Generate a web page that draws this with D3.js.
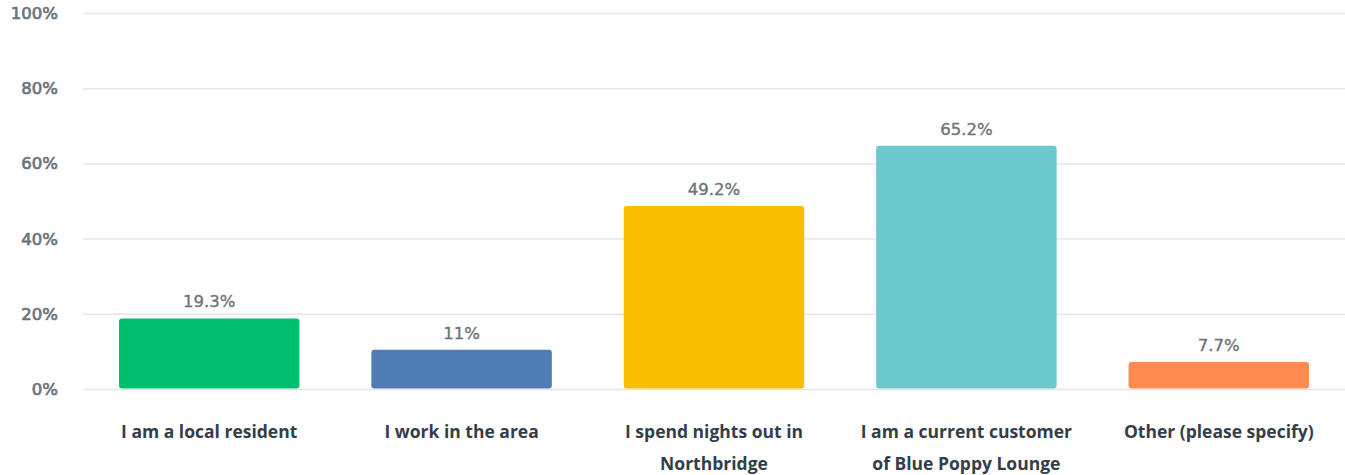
<!DOCTYPE html>
<html>
<head>
<meta charset="utf-8">
<script src="https://cdn.jsdelivr.net/npm/d3@7"></script>
<style>
  html, body { margin: 0; padding: 0; background: #fff; }
  svg { display: block; }
</style>
</head>
<body>
<svg id="chart" width="1345" height="475"></svg>
<script>
// Survey answers: share of respondents per option
const categories = [
  ["I am a local resident"],
  ["I work in the area"],
  ["I spend nights out in", "Northbridge"],
  ["I am a current customer", "of Blue Poppy Lounge"],
  ["Other (please specify)"]
];
const values = [19.3, 11, 49.2, 65.2, 7.7];
const valueLabels = ["19.3%", "11%", "49.2%", "65.2%", "7.7%"];
const colors = ["#00bf6f", "#507cb6", "#f9be00", "#6bc8cd", "#ff8b4f"];
const yTicks = [0, 20, 40, 60, 80, 100];

const svg = d3.select("#chart");
const margin = { top: 13, right: 0, bottom: 86, left: 83 };
const width = 1345, height = 475;

const x = d3.scaleBand()
  .domain(d3.range(values.length))
  .range([margin.left, width - margin.right])
  .paddingInner(0.285)
  .paddingOuter(0.1425);

const y = d3.scaleLinear()
  .domain([0, 100])
  .range([height - margin.bottom, margin.top]);

const numFont = "'DejaVu Sans', sans-serif";
const catFont = "'Open Sans', sans-serif";
const barGap = 2; // white gap kept above each bar

// horizontal gridlines
svg.append("g")
  .selectAll("line")
  .data(yTicks)
  .join("line")
  .attr("x1", margin.left)
  .attr("x2", width)
  .attr("y1", d => y(d) + 0.5)
  .attr("y2", d => y(d) + 0.5)
  .attr("stroke", "#e6e6e6")
  .attr("stroke-width", 1.5);

// y axis labels (semibold look: regular face with a thin outline)
svg.append("g")
  .selectAll("text")
  .data(yTicks)
  .join("text")
  .attr("x", 58)
  .attr("y", d => y(d))
  .attr("dy", "0.36em")
  .attr("text-anchor", "end")
  .attr("font-family", numFont)
  .attr("font-size", 16.5)
  .attr("font-weight", 400)
  .attr("fill", "#6b7479")
  .attr("stroke", "#6b7479")
  .attr("stroke-width", 0.7)
  .text(d => d + "%");

// bars
svg.append("g")
  .selectAll("rect")
  .data(values)
  .join("rect")
  .attr("x", (d, i) => x(i))
  .attr("y", d => y(d) + barGap)
  .attr("width", x.bandwidth())
  .attr("height", d => y(0) - y(d) - barGap - 0.5)
  .attr("rx", 3)
  .attr("fill", (d, i) => colors[i]);

// value labels above bars
svg.append("g")
  .selectAll("text")
  .data(values)
  .join("text")
  .attr("x", (d, i) => x(i) + x.bandwidth() / 2)
  .attr("y", d => y(d) + barGap - 11)
  .attr("text-anchor", "middle")
  .attr("font-family", numFont)
  .attr("font-size", 16.5)
  .attr("font-weight", 400)
  .attr("fill", "#6b7479")
  .attr("stroke", "#6b7479")
  .attr("stroke-width", 0.35)
  .text((d, i) => valueLabels[i]);

// category labels
const cat = svg.append("g")
  .selectAll("text")
  .data(categories)
  .join("text")
  .attr("x", (d, i) => x(i) + x.bandwidth() / 2)
  .attr("y", 438)
  .attr("text-anchor", "middle")
  .attr("font-family", catFont)
  .attr("font-size", 17.5)
  .attr("font-weight", 700)
  .attr("fill", "#333e48");

cat.selectAll("tspan")
  .data(d => d)
  .join("tspan")
  .attr("x", function () { return d3.select(this.parentNode).attr("x"); })
  .attr("dy", (d, j) => j === 0 ? 0 : 32)
  .text(d => d);
</script>
</body>
</html>
